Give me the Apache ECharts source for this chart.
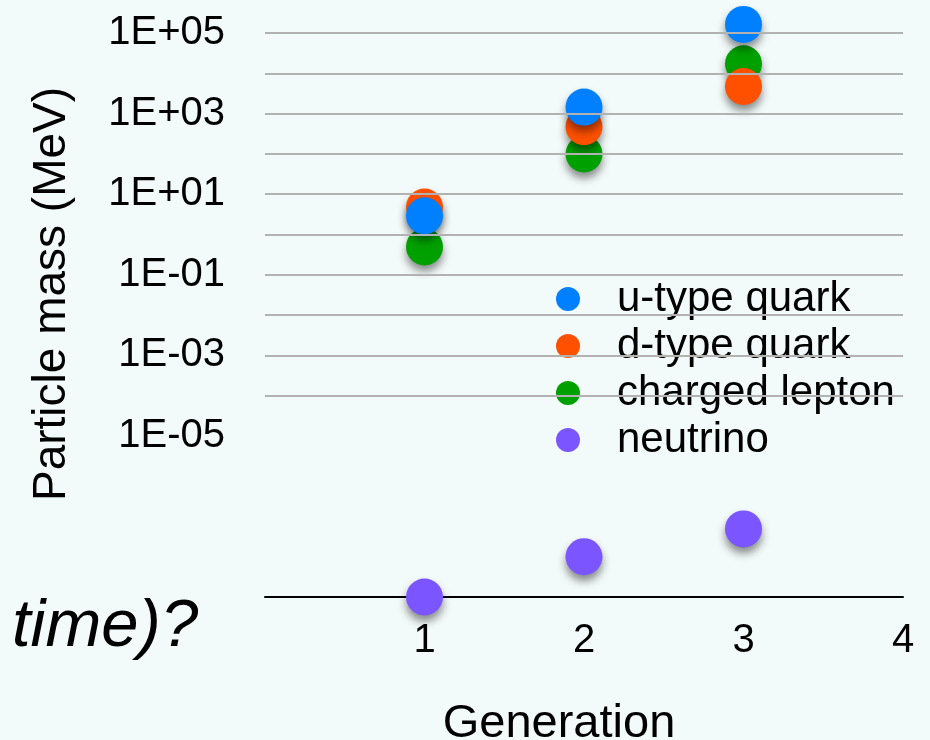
<!DOCTYPE html>
<html>
<head>
<meta charset="utf-8">
<script src="https://cdn.jsdelivr.net/npm/echarts@6/dist/echarts.min.js"></script>
<style>
  html, body { margin: 0; padding: 0; background: #f3fbfa; }
  #chart1 { width: 930px; height: 740px; }
</style>
</head>
<body>
<div id="chart1"></div>
<script>
var generations = [1, 2, 3];
var uQuark = [2.9, 1450, 163000];
var dQuark = [4.8, 470, 4700];
var chargedLepton = [0.49, 99, 17200];
var neutrino = [1e-9, 1e-8, 4.9e-8];
var seriesNames = ['u-type quark', 'd-type quark', 'charged lepton', 'neutrino'];
var yTickLabels = ['1E+05', '1E+03', '1E+01', '1E-01', '1E-03', '1E-05'];
var gridValues = [1e5, 1e4, 1e3, 1e2, 1e1, 1e0, 1e-1, 1e-2, 1e-3, 1e-4];
var xTickLabels = ['1', '2', '3', '4'];

var colors = {
    u: '#0080ff',
    d: '#ff5000',
    l: '#00a000',
    n: '#7b55ff'
};

function pairs(vals) {
    return generations.map(function (g, i) { return [g, vals[i]]; });
}

// 1E+05 style labels
function expLabel(v) {
    var e = Math.round(Math.log10(v));
    var s = Math.abs(e) < 10 ? '0' + Math.abs(e) : '' + Math.abs(e);
    return '1E' + (e < 0 ? '-' : '+') + s;
}

var dotStyle = function (c) {
    return {
        color: c,
        opacity: 1,
        shadowColor: 'rgba(0,0,0,0.45)',
        shadowBlur: 8,
        shadowOffsetY: 6
    };
};

var font = 'Liberation Sans';

option = {
    backgroundColor: '#f3fbfa',
    animation: false,
    grid: {
        left: 265,
        right: 27,
        top: 33,
        bottom: 143,
        containLabel: false,
        outerBoundsMode: 'none'
    },
    legend: {
        orient: 'vertical',
        left: 556,
        top: 278,
        padding: 0,
        icon: 'circle',
        itemWidth: 24,
        itemHeight: 24,
        itemGap: 5,
        data: seriesNames,
        itemStyle: { opacity: 1, shadowBlur: 0, shadowOffsetY: 0, shadowColor: 'transparent' },
        textStyle: {
            fontFamily: font,
            fontSize: 42,
            lineHeight: 40,
            color: '#000',
            padding: [0, 0, 0, 32]
        }
    },
    xAxis: {
        type: 'value',
        min: 0,
        max: 4,
        interval: 1,
        name: 'Generation',
        nameLocation: 'middle',
        nameGap: 104,
        nameTextStyle: { fontFamily: font, fontSize: 47, color: '#000', padding: [0, 50, 0, 0] },
        axisLine: { show: true, lineStyle: { color: '#000', width: 2 } },
        axisTick: { show: false },
        splitLine: { show: false },
        axisLabel: {
            fontFamily: font,
            fontSize: 40,
            color: '#000',
            margin: 24,
            formatter: function (v) {
                return xTickLabels.indexOf(String(v)) >= 0 ? String(v) : '';
            }
        }
    },
    yAxis: {
        type: 'log',
        logBase: 10,
        min: 1e-9,
        max: 1e5,
        interval: 1,
        axisLine: { show: false },
        axisTick: { show: false },
        splitLine: { show: false },
        axisLabel: {
            fontFamily: font,
            fontSize: 40,
            color: '#000',
            margin: 40,
            formatter: function (v) {
                var s = expLabel(v);
                return yTickLabels.indexOf(s) >= 0 ? s : '';
            }
        }
    },
    graphic: [
        {
            type: 'text',
            x: 52,
            y: 294,
            rotation: Math.PI / 2,
            style: {
                text: 'Particle mass (MeV)',
                font: '46px "Liberation Sans"',
                fill: '#000',
                textAlign: 'center',
                textVerticalAlign: 'middle'
            }
        },
        {
            type: 'text',
            x: 12,
            y: 627,
            style: {
                text: 'time)?',
                font: 'italic 67px "Liberation Sans"',
                fill: '#000',
                textAlign: 'left',
                textVerticalAlign: 'middle'
            }
        }
    ],
    series: [
        {
            name: 'neutrino',
            type: 'scatter',
            symbolSize: 37,
            clip: false,
            itemStyle: dotStyle(colors.n),
            data: pairs(neutrino),
            markLine: {
                silent: true,
                symbol: 'none',
                precision: 12,
                label: { show: false },
                lineStyle: { color: '#b2b2b2', width: 2, type: 'solid' },
                data: gridValues.map(function (v) { return { yAxis: v }; })
            }
        },
        {
            name: 'charged lepton',
            type: 'scatter',
            symbolSize: 37,
            clip: false,
            itemStyle: dotStyle(colors.l),
            data: pairs(chargedLepton)
        },
        {
            name: 'd-type quark',
            type: 'scatter',
            symbolSize: 37,
            clip: false,
            itemStyle: dotStyle(colors.d),
            data: pairs(dQuark)
        },
        {
            name: 'u-type quark',
            type: 'scatter',
            symbolSize: 37,
            clip: false,
            itemStyle: dotStyle(colors.u),
            data: pairs(uQuark)
        }
    ]
};

var myChart = echarts.init(document.getElementById('chart1'));
myChart.setOption(option);
</script>
</body>
</html>
